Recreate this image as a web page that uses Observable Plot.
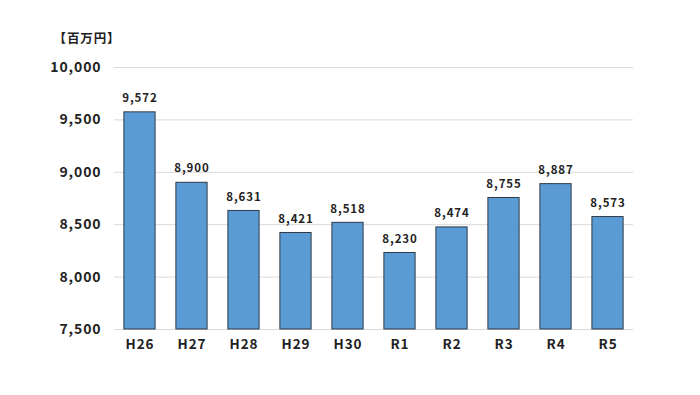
<!DOCTYPE html>
<html><head><meta charset="utf-8">
<script src="https://cdn.jsdelivr.net/npm/d3@7"></script>
<script src="https://cdn.jsdelivr.net/npm/@observablehq/plot@0.6"></script>
<style>body{margin:0;background:#fff}#c{position:relative;width:700px;height:395px}</style>
</head><body><div id="c"></div>
<script>
const categories = ["H26","H27","H28","H29","H30","R1","R2","R3","R4","R5"];
const values = [9572, 8900, 8631, 8421, 8518, 8230, 8474, 8755, 8887, 8573];
const yTicks = [7500, 8000, 8500, 9000, 9500, 10000];
const unitLabel = "【百万円】";
const data = categories.map((c, i) => ({cat: c, v: values[i]}));
const font = "'Noto Sans CJK JP', 'Noto Sans', sans-serif";
const chart = Plot.plot({
  width: 700, height: 395,
  marginLeft: 114, marginRight: 67, marginTop: 67, marginBottom: 66,
  style: {fontFamily: font, background: "#fff", color: "#222", letterSpacing: "0.9px"},
  x: {domain: categories, paddingInner: 0.4, paddingOuter: 0.19, round: false, label: null},
  y: {domain: [7500, 10000], ticks: yTicks, label: null, tickFormat: d3.format(",")},
  marks: [
    Plot.ruleY(yTicks, {stroke: "#d9d9d9", strokeWidth: 1}),
    Plot.barY(data, {x: "cat", y1: 7500, y2: "v", fill: "#5b9bd5", stroke: "#2e3a46", strokeWidth: 1}),
    Plot.text(data, {x: "cat", y: "v", text: d => d3.format(",")(d.v), dy: -14, fontSize: 11.5, fontWeight: 600, fill: "#222"}),
    Plot.axisY({ticks: yTicks, tickSize: 0, tickPadding: 13, fontSize: 14, fontWeight: 600, tickFormat: d3.format(","), label: null}),
    Plot.axisX({tickSize: 0, tickPadding: 10, fontSize: 13.5, fontWeight: 600, label: null}),
    Plot.text([unitLabel], {frameAnchor: "top-left", text: d => d, dx: -61, dy: -33, fontSize: 12.5, fontWeight: 600, textAnchor: "start", fill: "#222"})
  ]
});
document.getElementById("c").appendChild(chart);
</script></body></html>
